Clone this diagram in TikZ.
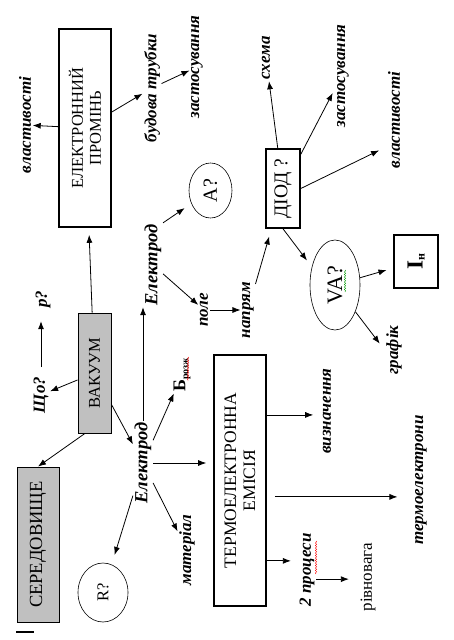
\documentclass[tikz,border=0pt]{standalone}
\usepackage{fontspec}
\setmainfont{Liberation Serif}
\usetikzlibrary{arrows.meta,shapes.geometric,decorations.pathmorphing}

\begin{document}
\begin{tikzpicture}[x=1pt,y=1pt,yscale=-1,xscale=1,
  box/.style={draw,rotate=90,inner sep=0pt,align=center,line width=1.6pt},
  greybox/.style={draw,fill={rgb,255:red,192;green,192;blue,192},rotate=90,inner sep=0pt,align=center,line width=0.9pt},
  oval/.style={draw,ellipse,rotate=90,inner sep=0pt,line width=0.6pt},
  lbl/.style={rotate=90,inner sep=1.5pt,font=\fontsize{17}{20}\selectfont\bfseries\itshape},
  arr/.style={-{Latex[length=8pt,width=6pt]},line width=0.8pt},
  squig/.style={decorate,decoration={snake,segment length=2.5pt,amplitude=0.7pt},line width=0.4pt}]
\useasboundingbox (0,0) rectangle (453,640);

%Shape: Boxes
\node [box,minimum width=198pt,minimum height=52pt,font=\fontsize{16.5}{18}\selectfont] (prom) at (85,128) {ЕЛЕКТРОННИЙ\\ПРОМІНЬ};
\node [greybox,minimum width=120pt,minimum height=33pt,font=\fontsize{16.5}{18}\selectfont] (vak) at (94.5,373) {ВАКУУМ};
\node [greybox,minimum width=155pt,minimum height=42pt,font=\fontsize{18.5}{20}\selectfont] (sered) at (38,544.5) {СЕРЕДОВИЩЕ};
\node [box,minimum width=251pt,minimum height=52pt,font=\fontsize{17.5}{19}\selectfont] (termo) at (240,480.5) {ТЕРМОЕЛЕКТРОННА\\ЕМІСІЯ};
\node [box,minimum width=79pt,minimum height=34pt,font=\fontsize{19.5}{20}\selectfont] (diod) at (283,188.5) {ДІОД ?};
\node [box,minimum width=53pt,minimum height=44pt,font=\fontsize{23}{24}\selectfont\bfseries] (In) at (416,261.5) {I\raisebox{-2pt}{\fontsize{12}{12}\selectfont н}};

%Shape: Ellipses
\node [oval,minimum width=55pt,minimum height=43pt,font=\fontsize{20}{20}\selectfont] (A) at (210.5,190.5) {A?};
\node [oval,minimum width=90pt,minimum height=50pt,font=\fontsize{22}{22}\selectfont] (VA) at (335,285) {VA?};
\node [oval,minimum width=59pt,minimum height=50pt,font=\fontsize{16.5}{16.5}\selectfont] (R) at (103,592.5) {R?};

% Text Node
\node [lbl] (vlast1) at (25,125) {властивості};
\node [lbl] (budova) at (152,88) {будова трубки};
\node [lbl] (zast1) at (197,67) {застосування};
\node [lbl] (p) at (43,299) {p?};
\node [lbl] (sho) at (41,395) {Що?};
\node [lbl,font=\fontsize{18.5}{20}\selectfont\bfseries\itshape] (elekUp) at (153,265) {Електрод};
\node [lbl,font=\fontsize{18.5}{20}\selectfont\bfseries\itshape] (elekLow) at (143,463) {Електрод};
\node [lbl] (pole) at (204,310) {поле};
\node [lbl] (napr) at (248,310) {напрям};
\node [lbl] (schema) at (266,58) {схема};
\node [lbl] (zast2) at (343,76) {застосування};
\node [lbl] (vlast2) at (394,120) {властивості};
\node [lbl] (grafik) at (394,350) {графік};
\node [rotate=90,inner sep=1.5pt,font=\fontsize{18}{18}\selectfont\bfseries] (bro) at (182,375) {Б\raisebox{-3pt}{\fontsize{10}{10}\selectfont розж}};
\node [lbl] (mater) at (187,550) {матеріал};
\node [lbl] (vyzn) at (327,411) {визначення};
\node [lbl] (termoel) at (421,480) {термоелектрони};
\node [lbl] (proc) at (307,570) {2 процеси};
\node [rotate=90,inner sep=1.5pt,font=\fontsize{17}{20}\selectfont] (rivn) at (368,577) {рівновага};

%Straight Lines
\draw [arr] (prom) -- (vlast1);
\draw [arr] (prom) -- (budova);
\draw [arr] (budova) -- (zast1);
\draw [arr,shorten >=7pt] (vak) -- (prom);
\draw [arr] (vak) -- (sho);
\draw [arr,shorten <=8pt,shorten >=12pt] (sho.east) -- (sho.east |- p.west);
\draw [arr] (vak.171) -- (sered.east);
\draw [arr] (vak) -- (elekLow);
\draw [arr] (elekLow.east) -- (elekLow.east |- elekUp.west);
\draw [arr,shorten >=7pt] (elekLow.south) -- (elekLow.south -| termo.north);
\draw [arr] (elekLow) -- (bro);
\draw [arr,shorten >=10pt] (elekLow) -- (R);
\draw [arr] (elekLow) -- (mater);
\draw [arr,shorten >=8pt] (elekUp.south east) -- (A);
\draw [arr] (elekUp) -- (pole);
\draw [arr] (pole) -- (napr);
\draw [arr,shorten >=8pt] (napr) -- (diod);
\draw [arr] (diod) -- (schema);
\draw [arr,shorten >=6pt] (diod) -- (zast2.147);
\draw [arr,shorten >=8pt] (diod.south) -- (vlast2.164);
\draw [arr,shorten >=8pt] (diod.west) -- (VA.52);
\draw [arr,shorten >=7pt] (VA) -- (In);
\draw [arr,shorten >=8pt] (VA) -- (grafik.north);
\draw [arr,shorten >=8pt] (termo.south |- vyzn.124) -- (vyzn.124);
\draw [arr,shorten <=8pt,shorten >=16pt] (termo.south |- termoel.156) -- (termoel.156);
\draw [arr,shorten >=7pt] (termo.south |- proc.45) -- (proc.45);
\draw [arr,shorten >=10pt] (proc.225) -- (proc.225 -| rivn.north);

%Spelling marks
\draw [squig,red] (188,357) -- (188,381);
\draw [squig,red] (316,541) -- (316,574);
\draw [squig,green!60!black] (345,270) -- (345,292);
\draw [line width=2pt] (16,632) -- (34,632);

\end{tikzpicture}
\end{document}
